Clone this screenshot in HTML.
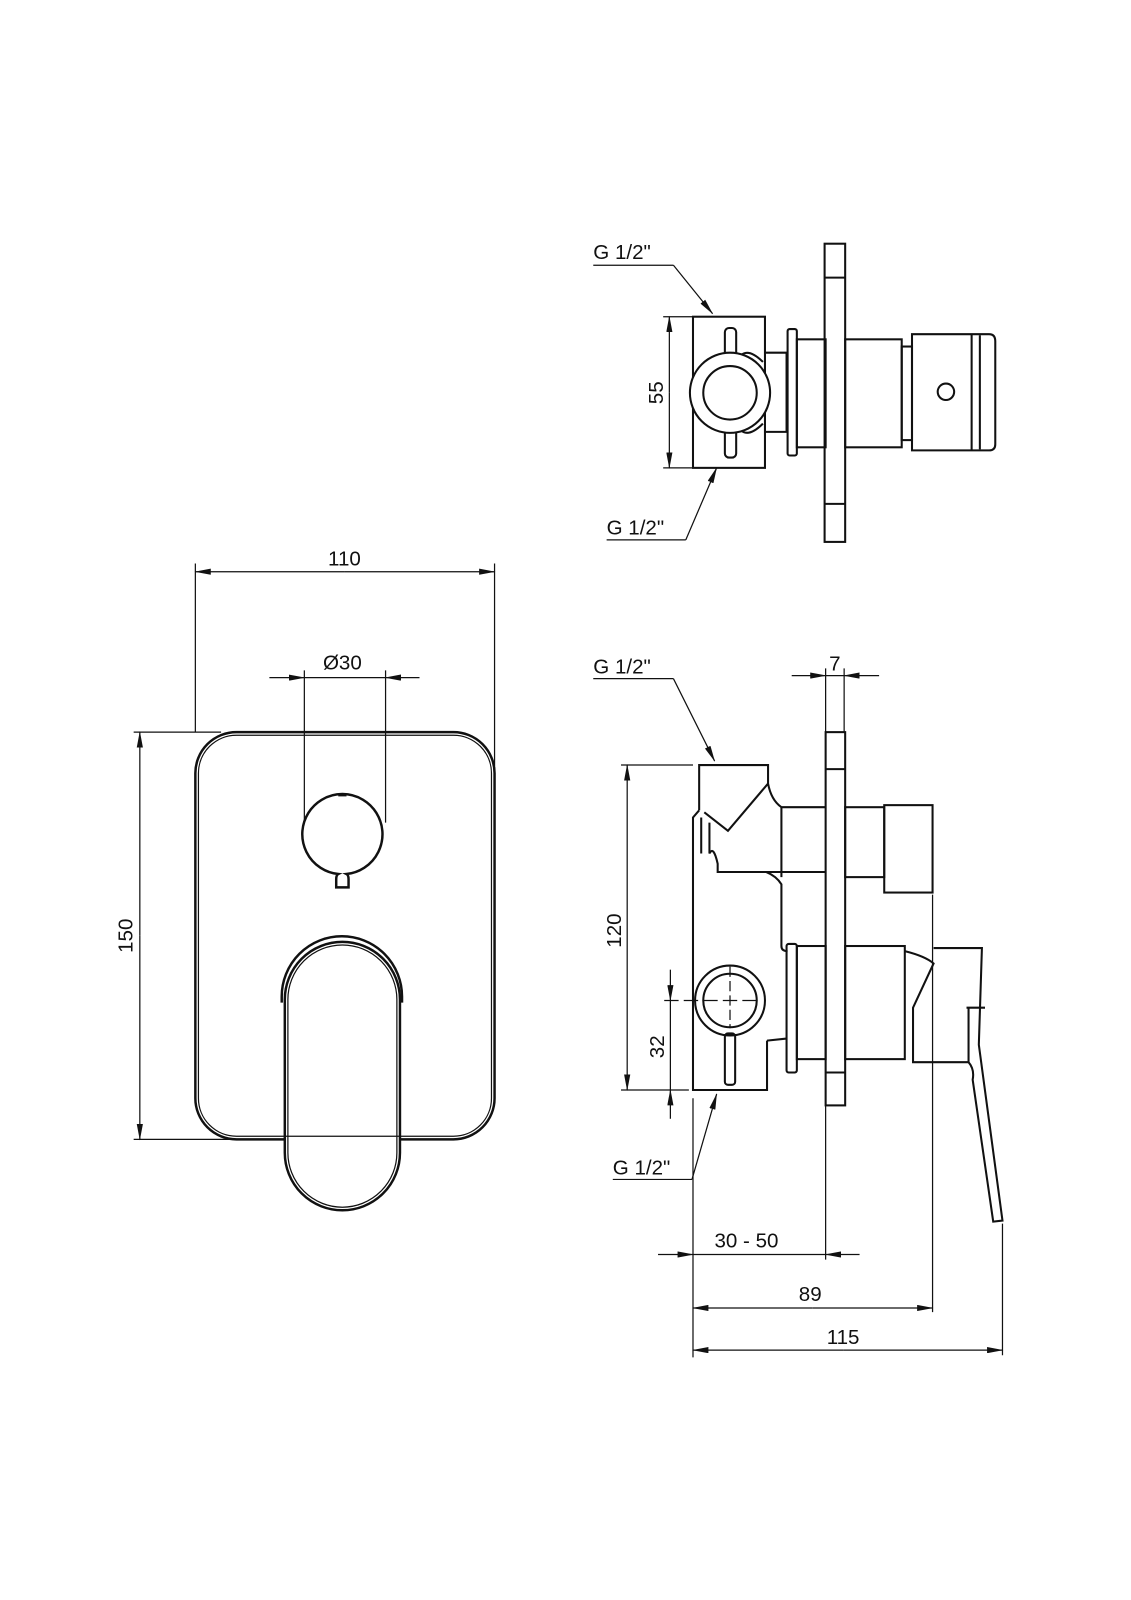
<!DOCTYPE html>
<html><head><meta charset="utf-8"><style>
html,body{margin:0;padding:0;background:#fff;}
svg{display:block;}
text{font-family:"Liberation Sans Narrow","Liberation Sans",sans-serif;font-size:20px;fill:#111;}
</style></head><body>
<svg width="1131" height="1600" viewBox="0 0 1100 1556" preserveAspectRatio="none" xmlns="http://www.w3.org/2000/svg">
<defs>
<marker id="a" markerWidth="16" markerHeight="6" refX="15" refY="3" orient="auto" markerUnits="userSpaceOnUse"><path d="M0,0 L16,3 L0,6 z" fill="#111"/></marker>
</defs>
<g fill="none" stroke="#111" stroke-width="1.2">
<!-- ===== LEFT VIEW ===== -->
<line x1="190" y1="548" x2="190" y2="712"/>
<line x1="481" y1="548" x2="481" y2="745"/>
<line x1="335" y1="556" x2="190" y2="556" marker-end="url(#a)"/>
<line x1="335" y1="556" x2="481" y2="556" marker-end="url(#a)"/>
<line x1="296" y1="652" x2="296" y2="800"/>
<line x1="375" y1="652" x2="375" y2="800"/>
<line x1="262" y1="659" x2="296" y2="659" marker-end="url(#a)"/>
<line x1="408" y1="659" x2="375" y2="659" marker-end="url(#a)"/>
<line x1="296" y1="659" x2="375" y2="659"/>
<line x1="130" y1="712" x2="215" y2="712"/>
<line x1="130" y1="1108" x2="275" y2="1108"/>
<line x1="136" y1="910" x2="136" y2="712" marker-end="url(#a)"/>
<line x1="136" y1="910" x2="136" y2="1108" marker-end="url(#a)"/>
<g stroke-width="2.4">
<rect x="190" y="712" width="291" height="396" rx="40"/>
<path d="M329,850 A39,39 0 1 1 337,850 Q339,851 339,855 L339,863 L327,863 L327,855 Q327,851 329,850 Z" />
<path d="M274,975 L274,969 A58,58 0 0 1 391,969 L391,975"/>
<rect x="277" y="916" width="112" height="261" rx="56" fill="#fff"/>
</g>
<path d="M329,773 L337,773" stroke-width="3"/>
<rect x="193" y="715" width="285" height="390" rx="37"/>
<rect x="280" y="919" width="106" height="255" rx="53"/>
<!-- ===== TOP RIGHT VIEW ===== -->
<line x1="577" y1="258" x2="655" y2="258"/>
<line x1="655" y1="258" x2="693" y2="305" marker-end="url(#a)"/>
<line x1="590" y1="525" x2="667" y2="525"/>
<line x1="667" y1="525" x2="697" y2="455" marker-end="url(#a)"/>
<line x1="645" y1="308" x2="674" y2="308"/>
<line x1="645" y1="455" x2="674" y2="455"/>
<line x1="651" y1="382" x2="651" y2="308" marker-end="url(#a)"/>
<line x1="651" y1="382" x2="651" y2="455" marker-end="url(#a)"/>
<g stroke-width="2">
<rect x="674" y="308" width="70" height="147"/>
<rect x="705" y="319" width="11" height="126" rx="4" fill="#fff"/>
<path d="M744,343 L765,343 L765,420 L744,420"/>
<path d="M742,352 Q728,338 720,346 M742,412 Q728,426 720,418"/>
<circle cx="710" cy="382" r="39" fill="#fff"/>
<circle cx="710" cy="382" r="26"/>
<rect x="766" y="320" width="9" height="123" rx="2"/>
<rect x="775" y="330" width="28" height="105"/>
<rect x="802" y="237" width="20" height="290"/>
<line x1="802" y1="270" x2="822" y2="270"/>
<line x1="802" y1="490" x2="822" y2="490"/>
<rect x="822" y="330" width="55" height="105"/>
<rect x="877" y="337" width="10" height="91"/>
<path d="M887,325 L962,325 Q968,325 968,332 L968,432 Q968,438 962,438 L887,438 Z"/>
<line x1="945" y1="325" x2="945" y2="438"/>
<line x1="953" y1="326" x2="953" y2="437"/>
<circle cx="920" cy="381" r="8"/>
</g>
<!-- ===== BOTTOM RIGHT VIEW ===== -->
<line x1="577" y1="660" x2="655" y2="660"/>
<line x1="655" y1="660" x2="695" y2="740" marker-end="url(#a)"/>
<line x1="596" y1="1147" x2="673" y2="1147"/>
<line x1="673" y1="1147" x2="697" y2="1064" marker-end="url(#a)"/>
<line x1="803" y1="650" x2="803" y2="712"/>
<line x1="821" y1="650" x2="821" y2="712"/>
<line x1="770" y1="657" x2="803" y2="657" marker-end="url(#a)"/>
<line x1="855" y1="657" x2="821" y2="657" marker-end="url(#a)"/>
<line x1="803" y1="657" x2="821" y2="657"/>
<line x1="604" y1="744" x2="674" y2="744"/>
<line x1="604" y1="1060" x2="670" y2="1060"/>
<line x1="610" y1="900" x2="610" y2="744" marker-end="url(#a)"/>
<line x1="610" y1="900" x2="610" y2="1060" marker-end="url(#a)"/>
<line x1="646" y1="973" x2="740" y2="973" stroke-dasharray="14 5"/>
<line x1="710" y1="940" x2="710" y2="1000" stroke-dasharray="10 4"/>
<line x1="652" y1="943" x2="652" y2="973" marker-end="url(#a)"/>
<line x1="652" y1="1088" x2="652" y2="1060" marker-end="url(#a)"/>
<line x1="652" y1="973" x2="652" y2="1060"/>
<line x1="674" y1="1068" x2="674" y2="1320"/>
<line x1="803" y1="1075" x2="803" y2="1225"/>
<line x1="907" y1="870" x2="907" y2="1276"/>
<line x1="975" y1="1190" x2="975" y2="1318"/>
<line x1="640" y1="1220" x2="674" y2="1220" marker-end="url(#a)"/>
<line x1="836" y1="1220" x2="803" y2="1220" marker-end="url(#a)"/>
<line x1="674" y1="1220" x2="803" y2="1220"/>
<line x1="790" y1="1272" x2="674" y2="1272" marker-end="url(#a)"/>
<line x1="790" y1="1272" x2="907" y2="1272" marker-end="url(#a)"/>
<line x1="820" y1="1313" x2="674" y2="1313" marker-end="url(#a)"/>
<line x1="820" y1="1313" x2="975" y2="1313" marker-end="url(#a)"/>
<g stroke-width="2">
<path d="M680,788 L680,744 L747,744 L747,762 Q750,778 760,785 L803,785"/>
<path d="M747,762 L708,808 L685,790"/>
<path d="M760,785 L760,853"/>
<path d="M680,788 L674,795 L674,1060 L746,1060 L746,1012"/>
<path d="M682,795 L682,830 M690,800 L690,830 Q694,822 698,840 L698,848 L745,848 Q755,852 760,860 L760,920 Q760,925 766,925"/>
<path d="M745,848 L803,848"/>
<circle cx="710" cy="973" r="34"/>
<circle cx="710" cy="973" r="26"/>
<rect x="705" y="1005" width="10" height="50" rx="3"/>
<path d="M746,1012 L765,1010"/>
<rect x="765" y="918" width="10" height="125" rx="2"/>
<rect x="775" y="920" width="28" height="110"/>
<rect x="803" y="712" width="19" height="363"/>
<line x1="803" y1="748" x2="822" y2="748"/>
<line x1="803" y1="1043" x2="822" y2="1043"/>
<rect x="822" y="785" width="38" height="68"/>
<rect x="860" y="783" width="47" height="85"/>
<rect x="822" y="920" width="58" height="110"/>
<path d="M880,925 Q900,930 908,937 L888,980 L888,1033 L942,1033 Q948,1040 946,1050 L966,1188 L975,1187 L952,1016 L955,922 L908,922"/>
<path d="M942,980 L942,1033 M940,980 L958,980"/>
</g>
</g>
<g>
<text x="335" y="550" text-anchor="middle">110</text>
<text x="333" y="651" text-anchor="middle">Ø30</text>
<text transform="translate(129,910) rotate(-90)" text-anchor="middle">150</text>
<text x="577" y="252">G 1/2"</text>
<text x="590" y="520">G 1/2"</text>
<text transform="translate(645,382) rotate(-90)" text-anchor="middle">55</text>
<text x="577" y="655">G 1/2"</text>
<text x="812" y="652" text-anchor="middle">7</text>
<text transform="translate(604,905) rotate(-90)" text-anchor="middle">120</text>
<text transform="translate(646,1018) rotate(-90)" text-anchor="middle">32</text>
<text x="596" y="1142">G 1/2"</text>
<text x="726" y="1213" text-anchor="middle">30 - 50</text>
<text x="788" y="1265" text-anchor="middle">89</text>
<text x="820" y="1307" text-anchor="middle">115</text>
</g>
</svg>
</body></html>
